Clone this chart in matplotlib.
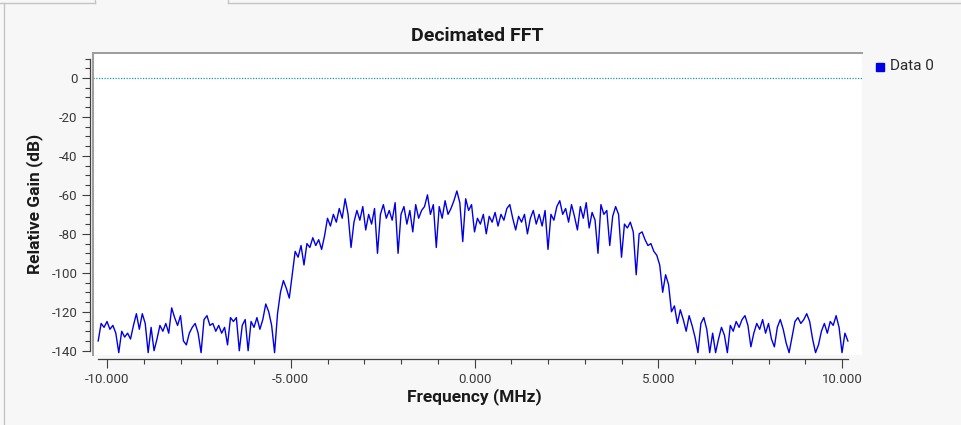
import numpy as np
import matplotlib
matplotlib.use('Agg')
import matplotlib.pyplot as plt
from matplotlib.lines import Line2D
from matplotlib.ticker import MultipleLocator, FormatStrFormatter

# FFT bins: start frequency and bin spacing (MHz)
freq_start = -10.24
freq_step = 0.08

# relative gain per bin (dB)
gain_db = [
    -135, -126, -128, -125, -129, -127, -131, -141, -130, -133,
    -131, -134, -127, -121, -129, -121, -126, -141, -128, -140,
    -134, -127, -130, -126, -131, -118, -123, -127, -122, -135,
    -137, -131, -128, -126, -131, -141, -124, -122, -127, -126,
    -130, -127, -131, -128, -137, -123, -125, -123, -140, -127,
    -124, -140, -125, -128, -123, -129, -124, -116, -120, -127,
    -141, -121, -110, -104, -108, -113, -101, -89, -92, -86,
    -96, -85, -87, -82, -86, -83, -88, -81, -72, -76,
    -70, -74, -67, -72, -62, -70, -87, -74, -68, -73,
    -66, -78, -70, -75, -67, -90, -70, -65, -72, -68,
    -73, -64, -90, -70, -66, -75, -68, -79, -65, -72,
    -68, -66, -60, -70, -65, -87, -66, -72, -63, -70,
    -67, -63, -58, -64, -84, -62, -68, -65, -79, -72,
    -75, -70, -80, -71, -74, -69, -76, -70, -73, -67,
    -65, -72, -78, -71, -74, -70, -80, -72, -68, -75,
    -70, -76, -68, -88, -70, -73, -66, -63, -70, -67,
    -74, -65, -71, -78, -66, -72, -64, -77, -69, -73,
    -90, -65, -70, -68, -86, -71, -66, -70, -92, -75,
    -77, -74, -79, -101, -80, -79, -83, -86, -85, -89,
    -91, -96, -110, -101, -106, -120, -117, -126, -119, -124,
    -130, -122, -127, -133, -141, -126, -123, -129, -141, -131,
    -141, -134, -128, -132, -141, -127, -130, -125, -128, -124,
    -122, -127, -138, -131, -126, -129, -124, -131, -126, -134,
    -138, -128, -124, -129, -136, -141, -133, -125, -123, -126,
    -124, -121, -125, -134, -141, -137, -130, -126, -131, -125,
    -127, -122, -128, -141, -131, -135,
]
freq_mhz = freq_start + freq_step * np.arange(len(gain_db))

title = 'Decimated FFT'
x_label = 'Frequency (MHz)'
y_label = 'Relative Gain (dB)'
series_name = 'Data 0'

plt.rcParams['font.family'] = ['Roboto', 'DejaVu Sans']
plt.rcParams['axes.unicode_minus'] = False

W, H = 961, 425
fig = plt.figure(figsize=(W / 100, H / 100), dpi=100, facecolor='#f7f7f7')

def fx(px):
    return px / W

def fy(py):
    return 1 - py / H

# plot canvas
ax = fig.add_axes([fx(93), fy(355), fx(862) - fx(93), fy(53) - fy(355)])
ax.set_facecolor('white')
ax.set_xlim(-10.381, 10.544)
ax.set_ylim(-142.2, 12.83)

ax.axhline(0, color='#1b9a9a', linestyle=(0, (1, 1.2)), linewidth=0.9)
ax.plot(freq_mhz, gain_db, color='#0000e6', linewidth=1.0)

# canvas frame (sunken look: top and left only)
ax.spines['right'].set_visible(False)
ax.spines['top'].set_color('#9c9c9c')
ax.spines['top'].set_linewidth(1.4)
ax.plot([0, 0], [0, 1], transform=ax.transAxes, color='#9c9c9c',
        linewidth=1.4, clip_on=False)

# axis backbones offset from the canvas
ax.spines['left'].set_position(('outward', 2.2))
ax.spines['left'].set_bounds(-140, 10)
ax.spines['bottom'].set_position(('outward', 2.9))
ax.spines['bottom'].set_bounds(freq_mhz[0], freq_mhz[-1])
for s in ('left', 'bottom'):
    ax.spines[s].set_color('#404040')
    ax.spines[s].set_linewidth(0.9)

ax.xaxis.set_major_locator(MultipleLocator(5))
ax.xaxis.set_minor_locator(MultipleLocator(1))
ax.xaxis.set_major_formatter(FormatStrFormatter('%.3f'))
ax.yaxis.set_major_locator(MultipleLocator(20))
ax.yaxis.set_minor_locator(MultipleLocator(5))
ax.yaxis.set_major_formatter(FormatStrFormatter('%d'))

ax.tick_params(axis='both', which='both', direction='out', colors='#404040',
               width=0.8, labelcolor='#3a3a3a', labelsize=9.5)
ax.tick_params(axis='x', which='major', length=6.5, pad=3.5)
ax.tick_params(axis='x', which='minor', length=3.6)
ax.tick_params(axis='y', which='major', length=5.8, pad=3)
ax.tick_params(axis='y', which='minor', length=3.6)

# texts
fig.text(fx(477.5), fy(36), title, ha='center', va='center',
         fontsize=14, fontweight='bold', color='#1a1a1a')
fig.text(fx(474), fy(397), x_label, ha='center', va='center',
         fontsize=12.5, fontweight='bold', color='#1a1a1a')
fig.text(fx(35), fy(204), y_label, ha='center', va='center', rotation=90,
         fontsize=12.5, fontweight='bold', color='#1a1a1a')

# legend entry
fig.add_artist(Line2D([fx(879.5)], [fy(66.5)], marker='s', markersize=5.5,
                      color='#0000e6', linestyle='none'))
fig.text(fx(890), fy(66.5), series_name, ha='left', va='center',
         fontsize=11, color='#2a2a2a')

# tab widget frame
frame_kw = dict(color='#c4c4c4', linewidth=1)
fig.add_artist(Line2D([fx(0), fx(95)], [fy(3), fy(3)], **frame_kw))
fig.add_artist(Line2D([fx(228), fx(W)], [fy(3), fy(3)], **frame_kw))
fig.add_artist(Line2D([fx(95), fx(95)], [fy(0), fy(3)], **frame_kw))
fig.add_artist(Line2D([fx(228), fx(228)], [fy(0), fy(3)], **frame_kw))
fig.add_artist(Line2D([fx(4), fx(4)], [fy(3), fy(H)], **frame_kw))

fig.savefig('out.png', dpi=100, facecolor=fig.get_facecolor())
